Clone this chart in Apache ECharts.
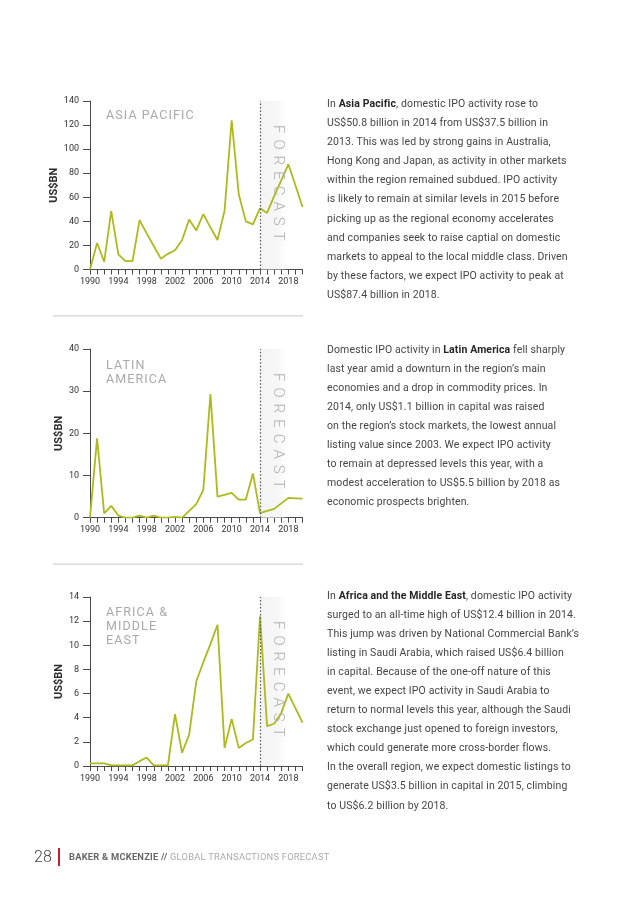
<!DOCTYPE html>
<html>
<head>
<meta charset="utf-8">
<script src="https://cdn.jsdelivr.net/npm/echarts@6/dist/echarts.min.js"></script>
<style>
  html, body { margin: 0; padding: 0; background: #fff; }
  #page { position: relative; width: 637px; height: 900px; overflow: hidden; font-family: Roboto, sans-serif; }
  #chart { position: absolute; left: 0; top: 0; width: 637px; height: 900px; }
  .ov { position: absolute; pointer-events: none; z-index: 5; }
  .region { font-size: 12.5px; line-height: 14px; color: #a9a9a9; letter-spacing: 1.1px; font-weight: 400; }
  .forecast { writing-mode: vertical-rl; font-size: 15px; font-weight: 300; color: #b0b0b0; letter-spacing: 6px; line-height: 20px; width: 20px; }
  .para { left: 327px; font-size: 10.5px; line-height: 19.1px; color: #454545; white-space: nowrap; letter-spacing: 0.12px; }
  .para b { color: #262626; font-weight: 700; }
  .foot-num { left: 34px; top: 847px; font-size: 16px; font-weight: 300; color: #444; line-height: 20px; }
  .foot-bar { left: 58px; top: 848px; width: 2px; height: 18px; background: #c8202f; }
  .foot-txt { left: 69px; top: 851px; font-size: 9.3px; line-height: 12px; color: #ababab; white-space: nowrap; letter-spacing: 0.25px; }
  .foot-txt b { color: #666; font-weight: 700; }
</style>
</head>
<body>
<div id="page">
  <div id="chart"></div>

  <div class="ov region" style="left:106px; top:108px;">ASIA PACIFIC</div>
  <div class="ov region" style="left:106px; top:358px;">LATIN<br>AMERICA</div>
  <div class="ov region" style="left:106px; top:605px;">AFRICA &amp;<br>MIDDLE<br>EAST</div>

  <div class="ov forecast" style="left:269px; top:125px;">FORECAST</div>
  <div class="ov forecast" style="left:269px; top:373px;">FORECAST</div>
  <div class="ov forecast" style="left:269px; top:621px;">FORECAST</div>

  <div class="ov para" style="top:94px;">In <b>Asia Pacific</b>, domestic IPO activity rose to<br>US$50.8 billion in 2014 from US$37.5 billion in<br>2013. This was led by strong gains in Australia,<br>Hong Kong and Japan, as activity in other markets<br>within the region remained subdued. IPO activity<br>is likely to remain at similar levels in 2015 before<br>picking up as the regional economy accelerates<br>and companies seek to raise captial on domestic<br>markets to appeal to the local middle class. Driven<br>by these factors, we expect IPO activity to peak at<br>US$87.4 billion in 2018.</div>

  <div class="ov para" style="top:339.5px;">Domestic IPO activity in <b>Latin America</b> fell sharply<br>last year amid a downturn in the region’s main<br>economies and a drop in commodity prices. In<br>2014, only US$1.1 billion in capital was raised<br>on the region’s stock markets, the lowest annual<br>listing value since 2003. We expect IPO activity<br>to remain at depressed levels this year, with a<br>modest acceleration to US$5.5 billion by 2018 as<br>economic prospects brighten.</div>

  <div class="ov para" style="top:585.5px;">In <b>Africa and the Middle East</b>, domestic IPO activity<br>surged to an all-time high of US$12.4 billion in 2014.<br>This jump was driven by National Commercial Bank’s<br>listing in Saudi Arabia, which raised US$6.4 billion<br>in capital. Because of the one-off nature of this<br>event, we expect IPO activity in Saudi Arabia to<br>return to normal levels this year, although the Saudi<br>stock exchange just opened to foreign investors,<br>which could generate more cross-border flows.<br>In the overall region, we expect domestic listings to<br>generate US$3.5 billion in capital in 2015, climbing<br>to US$6.2 billion by 2018.</div>

  <div class="ov foot-num">28</div>
  <div class="ov foot-bar"></div>
  <div class="ov foot-txt"><b>BAKER &amp; MCKENZIE //</b> GLOBAL TRANSACTIONS FORECAST</div>
</div>

<script>
// ---- data ----
const years = ['1990','1991','1992','1993','1994','1995','1996','1997','1998','1999',
               '2000','2001','2002','2003','2004','2005','2006','2007','2008','2009',
               '2010','2011','2012','2013','2014','2015','2016','2017','2018','2019','2020'];

const asiaPacific = [0, 22, 6.4, 48.5, 12.5, 7, 7, 41, 30, 19.5,
                     9, 13, 16, 24.5, 41.5, 32.5, 46, 35, 24.5, 49,
                     124, 62.5, 40, 37.5, 50.8, 47, 61, 74, 87.4, 70, 52];

const latinAmerica = [0, 18.8, 1, 2.8, 0.5, 0, 0, 0.5, 0, 0.5,
                      0, 0, 0.2, 0, 1.6, 3.2, 6.6, 29.3, 5, 5.4,
                      5.9, 4.3, 4.3, 10.5, 1.1, 1.6, 2.1, 3.4, 4.7, 4.6, 4.5];

const africaMiddleEast = [0.22, 0.22, 0.22, 0.05, 0.05, 0.05, 0.05, 0.4, 0.7, 0.05,
                          0.05, 0.05, 4.3, 1.1, 2.6, 7.0, 8.6, 10.1, 11.7, 1.5,
                          3.9, 1.5, 1.9, 2.2, 12.4, 3.3, 3.5, 4.4, 6.0, 4.8, 3.6];

const yMax = [140, 40, 14];
const yInterval = [20, 10, 2];
const forecastStart = '2014';
const forecastShadeEnd = '2018';
const yAxisName = 'US$BN';

// ---- chart ----
const LINE_COLOR = '#adb91c';
const AXIS_COLOR = '#4a4a4a';
const FONT = 'Roboto, sans-serif';

const grids = [
  { left: 90, width: 212.5, top: 101, height: 168.5 },
  { left: 90, width: 212.5, top: 349, height: 168.7 },
  { left: 90, width: 212.5, top: 597, height: 169 }
];
const seriesData = [asiaPacific, latinAmerica, africaMiddleEast];

const xAxes = grids.map((g, i) => ({
  type: 'category', gridIndex: i, data: years, boundaryGap: false,
  axisLine: { lineStyle: { color: AXIS_COLOR, width: 1 } },
  axisTick: { show: true, interval: 0, length: 5, lineStyle: { color: AXIS_COLOR, width: 1 } },
  axisLabel: { interval: 3, color: '#333', fontSize: 9, fontFamily: FONT, margin: 8 },
  splitLine: { show: false }
}));

const yAxes = grids.map((g, i) => ({
  type: 'value', gridIndex: i, min: 0, max: yMax[i], interval: yInterval[i],
  name: yAxisName, nameLocation: 'middle', nameGap: 25, nameRotate: 90,
  nameTextStyle: { color: '#2b2b2b', fontSize: 11, fontWeight: 'bold', fontFamily: FONT },
  axisLine: { show: true, lineStyle: { color: AXIS_COLOR, width: 1 } },
  axisTick: { show: true, length: 7, lineStyle: { color: AXIS_COLOR, width: 1 } },
  axisLabel: { color: '#333', fontSize: 9, fontFamily: FONT, margin: 11 },
  splitLine: { show: false }
}));

const series = [];
grids.forEach((g, i) => {
  // forecast shading + divider (behind the data line)
  series.push({
    type: 'line', xAxisIndex: i, yAxisIndex: i, data: [], z: 1, silent: true,
    markArea: {
      silent: true,
      itemStyle: {
        color: new echarts.graphic.LinearGradient(0, 0, 1, 0, [
          { offset: 0, color: 'rgba(242,242,242,0.9)' },
          { offset: 0.7, color: 'rgba(245,245,245,0.8)' },
          { offset: 1, color: 'rgba(255,255,255,0)' }
        ])
      },
      data: [[{ xAxis: forecastStart }, { xAxis: forecastShadeEnd }]]
    },
    markLine: {
      silent: true, symbol: ['none', 'none'], label: { show: false },
      lineStyle: { color: '#555', type: [1.5, 2], width: 1.2 },
      data: [{ xAxis: forecastStart }]
    }
  });
  series.push({
    type: 'line', xAxisIndex: i, yAxisIndex: i, data: seriesData[i], z: 3,
    symbol: 'none', smooth: false,
    lineStyle: { color: LINE_COLOR, width: 1.8 },
    itemStyle: { color: LINE_COLOR }
  });
});

const chart = echarts.init(document.getElementById('chart'), null, { renderer: 'canvas', width: 637, height: 900 });
chart.setOption({
  animation: false,
  backgroundColor: '#fff',
  textStyle: { fontFamily: FONT },
  grid: grids,
  xAxis: xAxes,
  yAxis: yAxes,
  series: series,
  graphic: [
    { type: 'line', shape: { x1: 53, y1: 315.7, x2: 303, y2: 315.7 }, style: { stroke: '#d9d9d9', lineWidth: 1.5 } },
    { type: 'line', shape: { x1: 53, y1: 564.3, x2: 303, y2: 564.3 }, style: { stroke: '#d9d9d9', lineWidth: 1.5 } }
  ]
});
</script>
</body>
</html>
